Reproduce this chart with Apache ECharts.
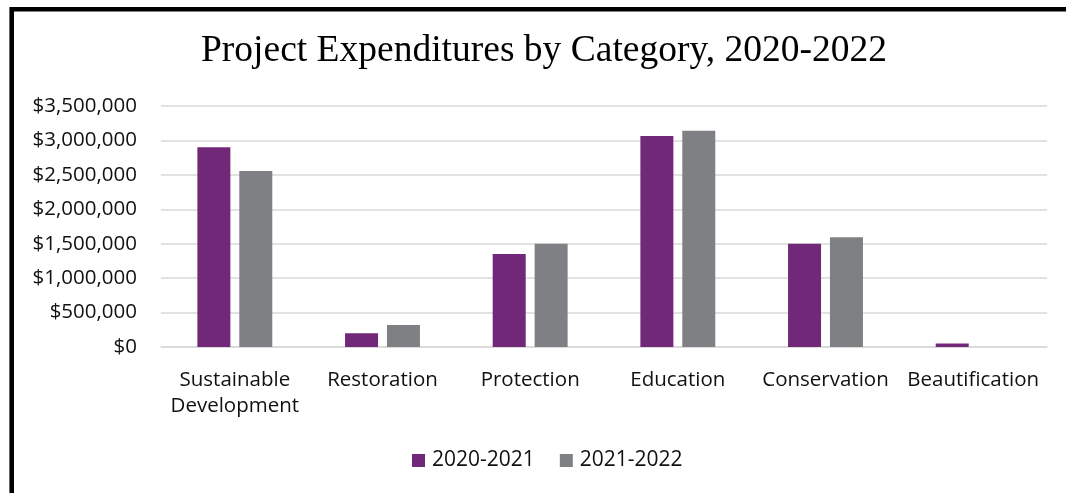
<!DOCTYPE html>
<html>
<head>
<meta charset="utf-8">
<script src="https://cdn.jsdelivr.net/npm/echarts@6/dist/echarts.min.js"></script>
<style>
html,body{margin:0;padding:0;background:#fff;}
#chart{width:1066px;height:493px;}
</style>
</head>
<body>
<div id="chart"></div>
<script>
const categories = ['Sustainable\nDevelopment', 'Restoration', 'Protection', 'Education', 'Conservation', 'Beautification'];
const series2020_2021 = [2900000, 200000, 1350000, 3065000, 1500000, 50000];
const series2021_2022 = [2555000, 320000, 1500000, 3140000, 1595000, 0];
const seriesNames = ['2020-2021', '2021-2022'];
const yTicks = { min: 0, max: 3500000, interval: 500000 };

const chart = echarts.init(document.getElementById('chart'), null, {renderer: 'canvas'});
const labelFont = '"Open Sans", "Noto Sans", sans-serif';
chart.setOption({
  animation: false,
  backgroundColor: '#fff',
  title: {
    text: 'Project Expenditures by Category, 2020-2022',
    left: 539,
    top: 27,
    textAlign: 'center',
    textStyle: { fontFamily: '"Liberation Serif", "Times New Roman", serif', fontSize: 37.5, fontWeight: 'normal', color: '#000' }
  },
  legend: {
    data: seriesNames,
    bottom: 17,
    left: 407,
    itemWidth: 13, itemHeight: 13, itemGap: 25,
    icon: 'rect',
    textStyle: { fontFamily: labelFont, fontSize: 21, color: '#111', padding: [0,0,0,2] }
  },
  grid: { left: 161, right: 19, top: 106, bottom: 146 },
  xAxis: {
    type: 'category',
    data: categories,
    axisTick: { show: false },
    axisLine: { lineStyle: { color: '#D9D9D9', width: 1.5 } },
    axisLabel: { fontFamily: labelFont, fontSize: 20.5, color: '#111', lineHeight: 26, margin: 20, interval: 0 }
  },
  yAxis: {
    type: 'value',
    min: yTicks.min, max: yTicks.max, interval: yTicks.interval,
    axisLine: { show: false },
    axisTick: { show: false },
    splitLine: { lineStyle: { color: '#D9D9D9', width: 1.5 } },
    axisLabel: {
      fontFamily: labelFont, fontSize: 20.5, color: '#111', margin: 24,
      formatter: v => '$' + v.toLocaleString('en-US')
    }
  },
  series: [
    { name: seriesNames[0], type: 'bar', data: series2020_2021, barWidth: 33, barGap: '27%', itemStyle: { color: '#722878' } },
    { name: seriesNames[1], type: 'bar', data: series2021_2022, barWidth: 33, itemStyle: { color: '#7F8083' } }
  ],
  graphic: [{
    type: 'polyline',
    shape: { points: [[11.7, 493], [11.7, 9.2], [1066, 9.2]] },
    style: { stroke: '#000', lineWidth: 4.6, fill: null },
    silent: true
  }]
});
</script>
</body>
</html>
